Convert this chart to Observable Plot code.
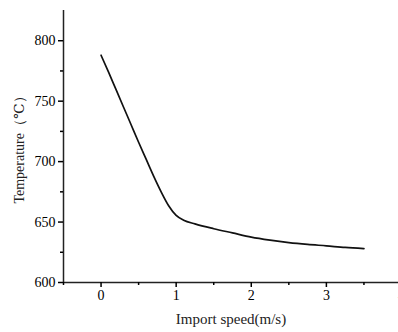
<!DOCTYPE html>
<html>
<head>
<meta charset="utf-8">
<script src="https://cdn.jsdelivr.net/npm/d3@7"></script>
<script src="https://cdn.jsdelivr.net/npm/@observablehq/plot@0.6"></script>
<style>
  html, body { margin: 0; padding: 0; background: #fff; }
  #chart svg { display: block; }
</style>
</head>
<body>
<div id="chart"></div>
<script>
const speed = [0, 0.1, 0.2, 0.3, 0.4, 0.5, 0.6, 0.7, 0.8, 0.9, 1.0, 1.1, 1.25, 1.5, 1.75, 2.0, 2.25, 2.5, 2.75, 3.0, 3.25, 3.5];
const temperature = [788, 774, 759.5, 745, 730.5, 716, 702, 688, 675, 663.5, 655.5, 651.5, 648.5, 644.5, 641, 637.5, 635, 633, 631.5, 630.3, 629, 628];
const xTicks = [0, 1, 2, 3, 4];
const xMinor = [-0.5, 0.5, 1.5, 2.5, 3.5];
const yTicks = [600, 650, 700, 750, 800];
const yMinor = [625, 675, 725, 775];
const xLabel = "Import speed(m/s)";
const yLabel = "Temperature（℃）";

const data = speed.map((s, i) => ({speed: s, temp: temperature[i]}));

const chart = Plot.plot({
  width: 398,
  height: 332,
  marginLeft: 63,
  marginRight: 0,
  marginTop: 10,
  marginBottom: 50,
  style: {fontFamily: "'Liberation Serif', 'DejaVu Serif', serif", fontSize: "14px", color: "#000", background: "#fff"},
  x: {domain: [-0.5, 4], range: [63, 401]},
  y: {domain: [600, 825]},
  marks: [
    Plot.line(data, {x: "speed", y: "temp", stroke: "#111", strokeWidth: 1.7, curve: "monotone-x"}),
    Plot.ruleY([600], {stroke: "#222", strokeWidth: 1.5}),
    Plot.ruleX([-0.5], {stroke: "#222", strokeWidth: 1.5}),
    Plot.axisX(xTicks, {tickSize: 5, tickPadding: 3, strokeWidth: 1.5, fontSize: 14, label: null}),
    Plot.axisX(xMinor, {tickSize: 3, strokeWidth: 1.5, text: null, label: null}),
    Plot.axisY(yTicks, {tickSize: 5, tickPadding: 3, strokeWidth: 1.5, fontSize: 14, label: null}),
    Plot.axisY(yMinor, {tickSize: 3, strokeWidth: 1.5, text: null, label: null}),
    Plot.text([xLabel], {frameAnchor: "bottom", dy: 41, fontSize: 15, fill: "#222"}),
    Plot.text([yLabel], {x: -0.5, y: 712.5, dx: -44, rotate: -90, fontSize: 14, fill: "#222"})
  ]
});
document.getElementById("chart").appendChild(chart);
</script>
</body>
</html>
